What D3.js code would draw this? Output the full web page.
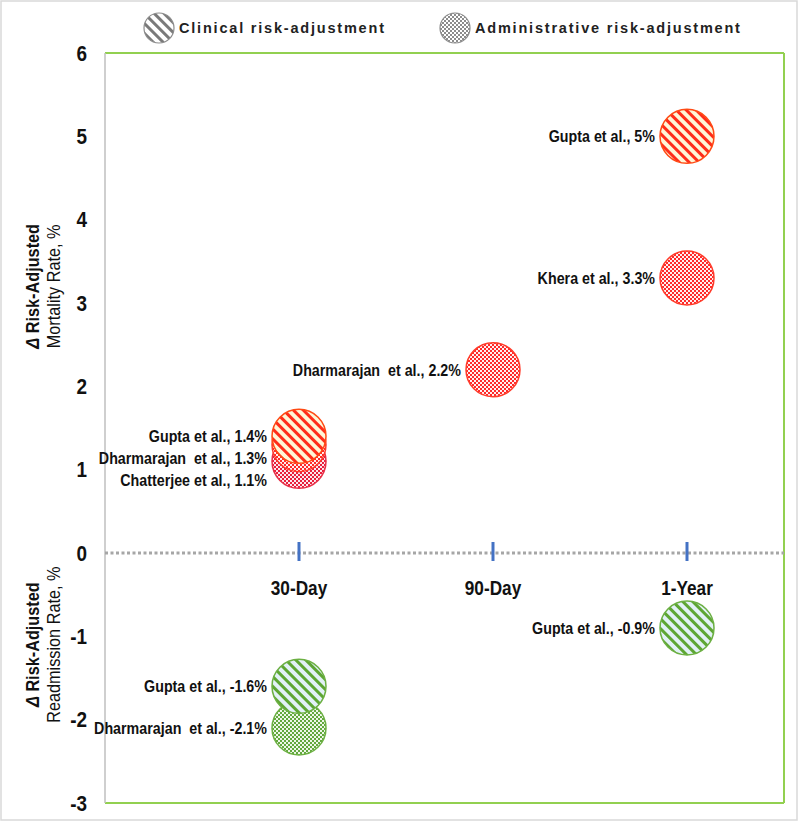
<!DOCTYPE html>
<html><head><meta charset="utf-8">
<script src="https://cdn.jsdelivr.net/npm/d3@7"></script>
<style>
body{margin:0;background:#fff;}
svg{display:block;font-family:"Liberation Sans",Arial,sans-serif;}
</style></head>
<body><svg id="chart" width="800" height="824"></svg>
<script>
// ---------- data ----------
const periods = ["30-Day", "90-Day", "1-Year"];
const yTicks = [-3, -2, -1, 0, 1, 2, 3, 4, 5, 6];
const legendLabels = ["Clinical risk-adjustment", "Administrative risk-adjustment"];
// listed in drawing order
const studies  = ["Chatterjee et al.", "Dharmarajan  et al.", "Gupta et al.", "Dharmarajan  et al.", "Khera et al.", "Gupta et al.", "Gupta et al.", "Dharmarajan  et al.", "Gupta et al."];
const studyPeriods = ["30-Day", "30-Day", "30-Day", "90-Day", "1-Year", "1-Year", "1-Year", "30-Day", "30-Day"];
const values   = [1.1, 1.3, 1.4, 2.2, 3.3, 5, -0.9, -2.1, -1.6];
const methods  = ["Administrative", "Administrative", "Clinical", "Administrative", "Administrative", "Clinical", "Clinical", "Administrative", "Clinical"];
const outcomes = ["Mortality", "Mortality", "Mortality", "Mortality", "Mortality", "Mortality", "Readmission", "Readmission", "Readmission"];

const points = values.map((v, i) => ({study: studies[i], period: studyPeriods[i], value: v, method: methods[i], outcome: outcomes[i]}));

// ---------- layout ----------
const svg = d3.select("#chart");
const W = 800, H = 824;
const plot = {left: 105, right: 784, top: 53, bottom: 803};
const R = 27;

const y = d3.scaleLinear().domain([-3, 6]).range([plot.bottom, plot.top]);
const x = d3.scalePoint().domain(periods).range([299, 687]);

// ---------- patterns ----------
const defs = svg.append("defs");
function stripes(id, line, bg) {
  const p = defs.append("pattern").attr("id", id).attr("patternUnits", "userSpaceOnUse")
    .attr("width", 7).attr("height", 7).attr("patternTransform", "rotate(-45)");
  p.append("rect").attr("width", 7).attr("height", 7).attr("fill", bg);
  p.append("rect").attr("width", 3).attr("height", 7).attr("fill", line);
}
function checker(id, c, bg) {
  const p = defs.append("pattern").attr("id", id).attr("patternUnits", "userSpaceOnUse")
    .attr("width", 4).attr("height", 4);
  p.append("rect").attr("width", 4).attr("height", 4).attr("fill", bg);
  p.append("rect").attr("width", 2).attr("height", 2).attr("fill", c);
  p.append("rect").attr("x", 2).attr("y", 2).attr("width", 2).attr("height", 2).attr("fill", c);
}
stripes("clinRed", "#ff2d1a", "#fff6d6");
checker("admRed", "#ff2a2a", "#fff0f0");
checker("admCrimson", "#e8203c", "#fbe8ee");
stripes("clinGreen", "#5ea634", "#e2f1f7");
checker("admGreen", "#62a83e", "#eef7e8");
stripes("clinGray", "#7a7a7a", "#ffffff");
checker("admGray", "#8c8c8c", "#ffffff");

// narrow text helper (condensed look of the original font)
function narrowText(sel, sx) {
  sel.each(function () {
    const t = d3.select(this);
    const tx = +t.attr("x") || 0, ty = +t.attr("y") || 0;
    t.attr("x", 0).attr("y", 0).attr("transform", `translate(${tx},${ty}) scale(${sx},1)`);
  });
}

// outer border
svg.append("rect").attr("x", 1).attr("y", 1).attr("width", W - 4).attr("height", H - 5)
  .attr("fill", "none").attr("stroke", "#d9d9d9").attr("stroke-width", 1.5);

// ---------- plot frame ----------
svg.append("line").attr("x1", plot.left).attr("x2", plot.right).attr("y1", plot.top).attr("y2", plot.top)
  .attr("stroke", "#92d050").attr("stroke-width", 2);
svg.append("line").attr("x1", plot.right).attr("x2", plot.right).attr("y1", plot.top).attr("y2", plot.bottom)
  .attr("stroke", "#92d050").attr("stroke-width", 2);
svg.append("line").attr("x1", plot.left).attr("x2", plot.right).attr("y1", plot.bottom).attr("y2", plot.bottom)
  .attr("stroke", "#92d050").attr("stroke-width", 2);
svg.append("line").attr("x1", plot.left).attr("x2", plot.left).attr("y1", plot.top).attr("y2", plot.bottom)
  .attr("stroke", "#bfbfbf").attr("stroke-width", 1.5);

// y axis
const yAxis = svg.append("g").attr("transform", `translate(${plot.left},0)`)
  .call(d3.axisLeft(y).tickValues(yTicks).tickFormat(d => String(d)).tickSize(0).tickPadding(18));
yAxis.select(".domain").remove();
yAxis.selectAll("text").attr("font-size", 22).attr("font-weight", "bold").attr("fill", "#111")
  .attr("font-family", "'Liberation Sans', Arial, sans-serif")
  .each(function () {
    const t = d3.select(this);
    t.attr("transform", `translate(${t.attr("x")},0) scale(0.86,1)`).attr("x", 0);
  });

// zero line
svg.append("line").attr("x1", plot.left).attr("x2", plot.right).attr("y1", y(0)).attr("y2", y(0))
  .attr("stroke", "#a6a6a6").attr("stroke-width", 3).attr("stroke-dasharray", "3,2.5");

// x ticks and labels
const xg = svg.append("g");
xg.selectAll("line.tick").data(periods).join("line").attr("class", "tick")
  .attr("x1", d => x(d)).attr("x2", d => x(d)).attr("y1", y(0) - 11).attr("y2", y(0) + 8)
  .attr("stroke", "#4472c4").attr("stroke-width", 3);
xg.selectAll("text").data(periods).join("text")
  .attr("x", d => x(d)).attr("y", y(0) + 42).attr("text-anchor", "middle")
  .attr("font-size", 20.5).attr("font-weight", "bold").attr("fill", "#111").text(d => d)
  .call(narrowText, 0.84);

// y titles
function yTitle(cy, l1, l2) {
  const g = svg.append("g").attr("transform", `translate(0,${cy})`);
  g.append("text").attr("transform", "translate(33,0) rotate(-90) scale(0.88,1)").attr("text-anchor", "middle")
    .attr("dominant-baseline", "central").attr("font-size", 18.5).attr("font-weight", "bold").attr("fill", "#111")
    .call(t => { t.append("tspan").attr("font-style", "italic").text("Δ"); t.append("tspan").text(" " + l1); });
  g.append("text").attr("transform", "translate(54,0) rotate(-90) scale(0.88,1)").attr("text-anchor", "middle")
    .attr("dominant-baseline", "central").attr("font-size", 18.5).attr("fill", "#111").text(l2);
}
yTitle(y(3.2), "Risk-Adjusted", "Mortality Rate, %");
yTitle(y(-1.1), "Risk-Adjusted", "Readmission Rate, %");

// ---------- points ----------
function fillFor(d) {
  if (d.outcome === "Readmission") return d.method === "Clinical" ? "url(#clinGreen)" : "url(#admGreen)";
  if (d.method === "Clinical") return "url(#clinRed)";
  return d.study.startsWith("Chatterjee") ? "url(#admCrimson)" : "url(#admRed)";
}
function strokeFor(d) {
  if (d.outcome === "Readmission") return "#6cb043";
  if (d.method === "Clinical") return "#ff4a14";
  return d.study.startsWith("Chatterjee") ? "#e83048" : "#ff3b2a";
}
svg.append("g").selectAll("circle").data(points).join("circle")
  .attr("cx", d => x(d.period)).attr("cy", d => y(d.value)).attr("r", R)
  .attr("fill", fillFor).attr("stroke", strokeFor).attr("stroke-width", 1.5);

// label positions: avoid overlaps within the same period/outcome group
const labelY = new Map();
d3.groups(points, d => d.period + d.outcome).forEach(([, g]) => {
  let prev = -Infinity;
  g.slice().sort((a, b) => b.value - a.value).forEach(d => {
    const ly = Math.max(y(d.value), prev + 22);
    labelY.set(d, ly); prev = ly;
  });
});
svg.append("g").selectAll("text").data(points).join("text")
  .attr("x", d => x(d.period) - R - 5).attr("y", d => labelY.get(d))
  .attr("text-anchor", "end").attr("dominant-baseline", "central")
  .attr("font-size", 17).attr("font-weight", "bold").attr("fill", "#111")
  .attr("style", "white-space:pre")
  .text(d => `${d.study}, ${d.value}%`)
  .call(narrowText, 0.84);

// ---------- legend ----------
const lg = svg.append("g");
const legX = [159, 455];
legendLabels.forEach((lab, i) => {
  lg.append("circle").attr("cx", legX[i]).attr("cy", 28).attr("r", 15)
    .attr("fill", i === 0 ? "url(#clinGray)" : "url(#admGray)").attr("stroke", "#8c8c8c").attr("stroke-width", 1.2);
  lg.append("text").attr("x", legX[i] + 20).attr("y", 28).attr("dominant-baseline", "central")
    .attr("font-size", 14.5).attr("font-weight", "bold").attr("letter-spacing", 1.8).attr("fill", "#222").text(lab);
});
</script></body></html>
